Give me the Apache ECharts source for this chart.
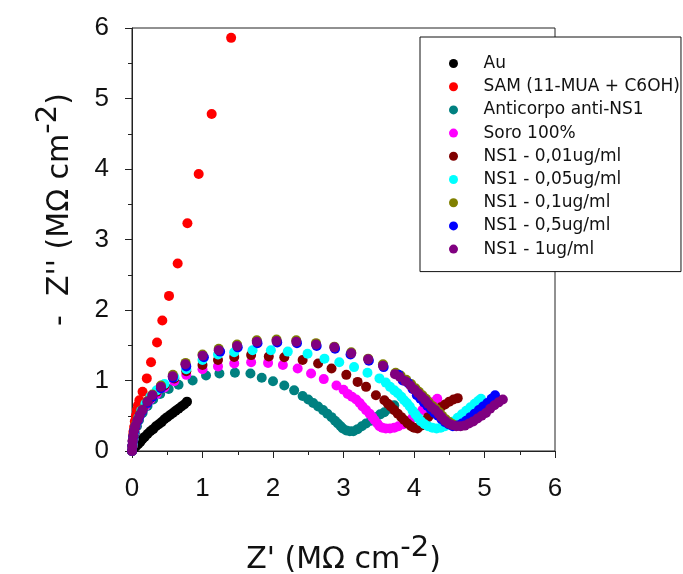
<!DOCTYPE html>
<html>
<head>
<meta charset="utf-8">
<script src="https://cdn.jsdelivr.net/npm/echarts@6/dist/echarts.min.js"></script>
<style>
html,body{margin:0;padding:0;background:#fff;}
#chart{width:683px;height:574px;}
</style>
</head>
<body>
<div id="chart"></div>
<script>
// ---- data (Z' , -Z'') in MΩ cm-2 ----
var seriesNames = ['Au', 'SAM (11-MUA + C6OH)', 'Anticorpo anti-NS1', 'Soro 100%',
  'NS1 - 0,01ug/ml', 'NS1 - 0,05ug/ml', 'NS1 - 0,1ug/ml', 'NS1 - 0,5ug/ml', 'NS1 - 1ug/ml'];
var seriesColors = ['#000000', '#ff0000', '#008080', '#ff00ff', '#800000', '#00ffff', '#808000', '#0000ff', '#800080'];
var xTicks = [0, 1, 2, 3, 4, 5, 6];
var yTicks = [0, 1, 2, 3, 4, 5, 6];

var auData = [[0,0],[0.03,0.04],[0.06,0.07],[0.09,0.1],[0.12,0.13],[0.15,0.17],[0.18,0.2],[0.22,0.24],
  [0.26,0.28],[0.3,0.31],[0.34,0.35],[0.38,0.38],[0.42,0.41],[0.46,0.45],[0.5,0.48],[0.54,0.51],
  [0.58,0.54],[0.62,0.57],[0.66,0.6],[0.7,0.63],[0.74,0.66],[0.78,0.7]];

var samData = [[0,0],[0.005,0.06],[0.01,0.13],[0.015,0.2],[0.02,0.27],[0.03,0.34],[0.04,0.42],
  [0.055,0.5],[0.07,0.58],[0.085,0.65],[0.105,0.72],[0.15,0.84],[0.21,1.03],[0.27,1.26],
  [0.355,1.54],[0.43,1.85],[0.525,2.2],[0.648,2.66],[0.786,3.23],[0.946,3.93],[1.13,4.78],[1.406,5.86]];

var anticorpoData = [[0,0],[0.01,0.08],[0.02,0.16],[0.04,0.25],[0.07,0.35],[0.1,0.44],[0.15,0.54],
  [0.22,0.64],[0.3,0.73],[0.4,0.81],[0.52,0.88],[0.66,0.94],[0.86,1.0],[1.05,1.07],[1.24,1.1],
  [1.46,1.11],[1.68,1.1],[1.84,1.04],[2.0,0.99],[2.16,0.93],[2.3,0.86],[2.42,0.78],[2.5,0.73],
  [2.57,0.68],[2.64,0.63],[2.71,0.58],[2.77,0.53],[2.83,0.48],[2.88,0.43],[2.92,0.39],[2.96,0.35],
  [2.99,0.32],[3.04,0.29],[3.09,0.28],[3.14,0.28],[3.2,0.31],[3.26,0.35],[3.32,0.39],[3.39,0.43],
  [3.46,0.48],[3.52,0.52],[3.58,0.55],[3.65,0.6],[3.72,0.65]];

var soroData = [[0,0],[0.01,0.08],[0.02,0.17],[0.035,0.26],[0.06,0.36],[0.09,0.45],[0.13,0.55],
  [0.19,0.64],[0.26,0.73],[0.35,0.81],[0.46,0.9],[0.6,0.99],[0.77,1.08],[1.0,1.16],[1.22,1.2],
  [1.45,1.24],[1.69,1.26],[1.93,1.25],[2.14,1.22],[2.35,1.17],[2.54,1.1],[2.72,1.02],[2.9,0.93],
  [3.0,0.87],[3.06,0.81],[3.12,0.77],[3.18,0.73],[3.23,0.68],[3.27,0.63],[3.32,0.58],[3.37,0.53],
  [3.41,0.48],[3.44,0.44],[3.48,0.39],[3.51,0.35],[3.55,0.33],[3.6,0.32],[3.66,0.32],[3.72,0.33],
  [3.78,0.35],[3.85,0.38],[3.92,0.42],[3.98,0.47],[4.05,0.52],[4.12,0.58],[4.19,0.63],[4.26,0.69],
  [4.33,0.74]];

var ns1_001Data = [[0,0],[0.01,0.08],[0.02,0.17],[0.035,0.26],[0.06,0.36],[0.09,0.46],[0.13,0.56],
  [0.19,0.66],[0.26,0.75],[0.35,0.84],[0.46,0.93],[0.6,1.03],[0.77,1.13],[1.0,1.22],[1.22,1.29],
  [1.45,1.335],[1.69,1.36],[1.94,1.34],[2.16,1.33],[2.42,1.29],[2.64,1.24],[2.83,1.17],[3.04,1.08],
  [3.2,0.98],[3.32,0.91],[3.46,0.79],[3.58,0.72],[3.63,0.67],[3.67,0.63],[3.72,0.58],[3.77,0.53],
  [3.82,0.48],[3.86,0.44],[3.91,0.39],[3.96,0.35],[4.0,0.33],[4.05,0.32],[4.1,0.36],[4.15,0.42],
  [4.2,0.48],[4.26,0.53],[4.32,0.58],[4.38,0.62],[4.44,0.66],[4.5,0.7],[4.56,0.73],[4.62,0.75]];

var ns1_005Data = [[0,0],[0.01,0.08],[0.02,0.17],[0.035,0.27],[0.06,0.37],[0.09,0.47],[0.13,0.57],
  [0.19,0.67],[0.26,0.77],[0.35,0.86],[0.46,0.95],[0.6,1.05],[0.77,1.16],[1.0,1.29],[1.22,1.37],
  [1.45,1.4],[1.71,1.43],[1.97,1.43],[2.21,1.41],[2.49,1.38],[2.73,1.31],[2.94,1.26],[3.15,1.19],
  [3.34,1.11],[3.51,1.03],[3.6,0.97],[3.66,0.91],[3.72,0.86],[3.77,0.82],[3.82,0.77],[3.86,0.72],
  [3.9,0.68],[3.94,0.63],[3.98,0.57],[4.02,0.52],[4.06,0.47],[4.1,0.42],[4.15,0.38],[4.2,0.35],
  [4.26,0.33],[4.32,0.32],[4.38,0.33],[4.44,0.35],[4.5,0.38],[4.56,0.42],[4.62,0.47],[4.68,0.52],
  [4.74,0.57],[4.8,0.62],[4.86,0.67],[4.91,0.71],[4.95,0.74]];

var ns1_01Data = [[0,0],[0.005,0.07],[0.01,0.15],[0.02,0.22],[0.03,0.29],[0.05,0.37],[0.08,0.45],
  [0.11,0.52],[0.15,0.59],[0.22,0.71],[0.29,0.8],[0.41,0.93],[0.58,1.08],[0.76,1.25],[1.0,1.37],
  [1.23,1.45],[1.49,1.51],[1.77,1.57],[2.05,1.58],[2.33,1.57],[2.61,1.53],[2.87,1.48],[3.11,1.4],
  [3.35,1.31],[3.56,1.23],[3.74,1.11],[3.81,1.07],[3.89,1.01],[3.96,0.95],[4.02,0.89],[4.07,0.84],
  [4.12,0.79],[4.17,0.74],[4.21,0.69],[4.26,0.64],[4.31,0.6],[4.36,0.55],[4.4,0.5],[4.45,0.45],
  [4.5,0.41],[4.55,0.38],[4.61,0.36],[4.67,0.36],[4.73,0.38],[4.79,0.41],[4.85,0.45],[4.91,0.49],
  [4.97,0.54],[5.03,0.59],[5.09,0.64],[5.14,0.69]];

var ns1_05Data = [[0,0],[0.005,0.07],[0.01,0.14],[0.02,0.21],[0.03,0.28],[0.05,0.35],[0.08,0.43],
  [0.11,0.5],[0.15,0.57],[0.22,0.68],[0.29,0.77],[0.41,0.89],[0.58,1.04],[0.77,1.2],[1.02,1.33],
  [1.25,1.41],[1.5,1.47],[1.78,1.53],[2.06,1.54],[2.34,1.53],[2.62,1.49],[2.88,1.45],[3.1,1.37],
  [3.36,1.28],[3.57,1.19],[3.78,1.08],[3.84,1.0],[3.92,0.96],[3.98,0.88],[4.04,0.79],[4.09,0.74],
  [4.14,0.69],[4.19,0.64],[4.24,0.59],[4.29,0.54],[4.34,0.5],[4.39,0.45],[4.44,0.41],[4.49,0.38],
  [4.55,0.35],[4.62,0.36],[4.68,0.39],[4.74,0.43],[4.8,0.48],[4.86,0.53],[4.92,0.58],[4.98,0.63],
  [5.04,0.68],[5.1,0.74],[5.15,0.79]];

var ns1_1Data = [[0,0],[0.005,0.07],[0.01,0.15],[0.02,0.22],[0.03,0.29],[0.05,0.36],[0.08,0.44],
  [0.11,0.51],[0.15,0.58],[0.22,0.7],[0.29,0.79],[0.41,0.91],[0.577,1.06],[0.757,1.23],[1.003,1.35],
  [1.23,1.43],[1.49,1.49],[1.77,1.55],[2.05,1.56],[2.33,1.55],[2.61,1.51],[2.87,1.47],[3.11,1.385],
  [3.35,1.3],[3.56,1.21],[3.73,1.09],[3.8,1.05],[3.88,0.99],[3.95,0.93],[4.01,0.87],[4.06,0.82],
  [4.11,0.77],[4.16,0.72],[4.2,0.67],[4.25,0.62],[4.3,0.58],[4.35,0.53],[4.39,0.48],[4.44,0.43],
  [4.49,0.39],[4.54,0.37],[4.6,0.35],[4.66,0.35],[4.72,0.36],[4.78,0.39],[4.84,0.42],[4.9,0.46],
  [4.96,0.5],[5.02,0.54],[5.08,0.6],[5.14,0.65],[5.2,0.69],[5.26,0.73]];

var allData = [auData, samData, anticorpoData, soroData, ns1_001Data, ns1_005Data, ns1_01Data, ns1_05Data, ns1_1Data];

// ---- chart ----
var chart = echarts.init(document.getElementById('chart'), null, {renderer: 'canvas'});
var FONT = '"Liberation Sans", Arial, sans-serif';
var TFONT = '"DejaVu Sans", "Liberation Sans", Arial, sans-serif';

function titleRich(size) {
  return {
    b: {fontSize: size, lineHeight: size, fontFamily: TFONT, color: '#111', verticalAlign: 'bottom'},
    s: {fontSize: size - 1, lineHeight: size - 1, fontFamily: TFONT, color: '#111', verticalAlign: 'bottom', padding: [0, 0, 12, 0]}
  };
}

var series = seriesNames.map(function (name, i) {
  return {
    name: name,
    type: 'scatter',
    data: allData[i],
    symbol: 'circle',
    symbolSize: 10,
    itemStyle: {color: seriesColors[i], opacity: 1},
    emphasis: {disabled: true},
    z: 2 + i
  };
});

var axisCommon = {
  type: 'value',
  min: 0,
  max: 6,
  interval: 1,
  splitLine: {show: false},
  axisLine: {show: true, onZero: false, lineStyle: {color: '#222', width: 1}},
  axisTick: {show: true, inside: false, length: 7, lineStyle: {color: '#222', width: 1}},
  minorTick: {show: true, splitNumber: 2, length: 4, lineStyle: {color: '#222', width: 1}},
  axisLabel: {fontSize: 26, fontFamily: FONT, color: '#111'}
};

var option = {
  backgroundColor: '#ffffff',
  animation: false,
  grid: {left: 132, right: 128, top: 28, bottom: 123, show: true, borderColor: '#222', borderWidth: 1,
    backgroundColor: 'transparent', containLabel: false, outerBoundsMode: 'none'},
  xAxis: Object.assign({}, axisCommon, {
    axisLabel: Object.assign({}, axisCommon.axisLabel, {margin: 25, formatter: function (v) { return xTicks.indexOf(v) >= 0 ? String(v) : ''; }}),
    name: "{b|Z' (MΩ cm}{s|-2}{b|)}",
    nameLocation: 'middle',
    nameGap: 94,
    nameTextStyle: {rich: titleRich(30)}
  }),
  yAxis: Object.assign({}, axisCommon, {
    axisLabel: Object.assign({}, axisCommon.axisLabel, {margin: 23, formatter: function (v) { return yTicks.indexOf(v) >= 0 ? String(v) : ''; }}),
    name: "{b|-  Z'' (MΩ cm}{s|-2}{b|)}",
    nameLocation: 'middle',
    nameGap: 57,
    nameTextStyle: {rich: titleRich(30), padding: [0, 0, 0, 60]}
  }),
  legend: {
    show: true,
    orient: 'vertical',
    left: 420,
    top: 37,
    data: seriesNames,
    icon: 'circle',
    itemWidth: 50,
    itemHeight: 9,
    itemGap: 6.2,
    padding: [18, 1, 14, 29],
    borderColor: '#111',
    borderWidth: 1,
    backgroundColor: '#ffffff',
    selectedMode: false,
    textStyle: {fontSize: 17, lineHeight: 16, fontFamily: TFONT, color: '#111', padding: 0}
  },
  series: series
};
chart.setOption(option);
</script>
</body>
</html>
